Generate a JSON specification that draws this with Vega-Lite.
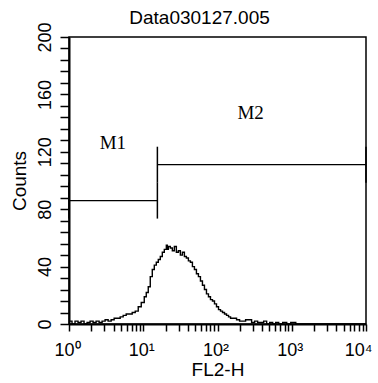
{
  "$schema": "https://vega.github.io/schema/vega-lite/v6.json",
  "autosize": "none",
  "padding": {"left": 69, "top": 37, "right": 12, "bottom": 59},
  "width": 297,
  "height": 287,
  "background": "white",
  "title": {
    "text": "Data030127.005",
    "font": "Liberation Sans",
    "fontSize": 19,
    "fontWeight": "normal",
    "color": "black",
    "offset": -6,
    "dx": -18
  },
  "config": {
    "view": {"stroke": "black", "strokeWidth": 1.5},
    "axis": {
      "grid": false,
      "domainColor": "black",
      "domainWidth": 2,
      "tickColor": "black",
      "tickWidth": 1.5,
      "labelColor": "black",
      "titleColor": "black",
      "labelFont": "Liberation Sans",
      "titleFont": "Liberation Sans",
      "titleFontWeight": "normal",
      "labelFlush": false,
      "labelBound": false
    }
  },
  "datasets": {
    "histogram": [
      {"fl2": 1, "count": 2}, {"fl2": 1.098, "count": 0}, {"fl2": 1.205, "count": 2},
      {"fl2": 1.323, "count": 1}, {"fl2": 1.453, "count": 2}, {"fl2": 1.595, "count": 0},
      {"fl2": 1.751, "count": 1}, {"fl2": 1.922, "count": 2}, {"fl2": 2.11, "count": 1},
      {"fl2": 2.317, "count": 2}, {"fl2": 2.543, "count": 1}, {"fl2": 2.792, "count": 2},
      {"fl2": 3.065, "count": 3}, {"fl2": 3.365, "count": 2}, {"fl2": 3.695, "count": 3},
      {"fl2": 4.056, "count": 4}, {"fl2": 4.453, "count": 4}, {"fl2": 4.889, "count": 5},
      {"fl2": 5.367, "count": 6}, {"fl2": 5.892, "count": 7}, {"fl2": 6.469, "count": 7},
      {"fl2": 7.102, "count": 8}, {"fl2": 7.797, "count": 9}, {"fl2": 8.56, "count": 12},
      {"fl2": 9.397, "count": 15}, {"fl2": 10.32, "count": 19}, {"fl2": 10.98, "count": 22},
      {"fl2": 11.68, "count": 26}, {"fl2": 12.43, "count": 33}, {"fl2": 13.23, "count": 38},
      {"fl2": 14.08, "count": 41}, {"fl2": 14.99, "count": 43}, {"fl2": 15.95, "count": 45},
      {"fl2": 16.97, "count": 47}, {"fl2": 18.06, "count": 50}, {"fl2": 19.22, "count": 52},
      {"fl2": 20.46, "count": 55}, {"fl2": 21.1, "count": 52}, {"fl2": 21.77, "count": 54},
      {"fl2": 23.17, "count": 53}, {"fl2": 24.66, "count": 51}, {"fl2": 26.24, "count": 54},
      {"fl2": 27.92, "count": 50}, {"fl2": 29.72, "count": 51}, {"fl2": 31.62, "count": 48},
      {"fl2": 33.65, "count": 50}, {"fl2": 35.82, "count": 47}, {"fl2": 38.11, "count": 46},
      {"fl2": 40.56, "count": 44}, {"fl2": 43.16, "count": 43}, {"fl2": 45.94, "count": 40},
      {"fl2": 48.89, "count": 38}, {"fl2": 52.02, "count": 35}, {"fl2": 55.36, "count": 33},
      {"fl2": 58.92, "count": 30}, {"fl2": 62.7, "count": 27}, {"fl2": 66.72, "count": 24},
      {"fl2": 71.01, "count": 21}, {"fl2": 75.57, "count": 19}, {"fl2": 80.42, "count": 17},
      {"fl2": 85.58, "count": 16}, {"fl2": 91.1, "count": 14}, {"fl2": 96.94, "count": 12},
      {"fl2": 103.2, "count": 10}, {"fl2": 109.8, "count": 9}, {"fl2": 116.8, "count": 8},
      {"fl2": 124.3, "count": 7}, {"fl2": 132.3, "count": 6}, {"fl2": 140.8, "count": 5},
      {"fl2": 149.9, "count": 4}, {"fl2": 164.6, "count": 4}, {"fl2": 180.6, "count": 3},
      {"fl2": 198.3, "count": 2}, {"fl2": 217.7, "count": 2}, {"fl2": 239, "count": 3},
      {"fl2": 262.4, "count": 3}, {"fl2": 288, "count": 1}, {"fl2": 316.2, "count": 2},
      {"fl2": 347.1, "count": 1}, {"fl2": 381.1, "count": 1}, {"fl2": 418.4, "count": 2},
      {"fl2": 459.4, "count": 0}, {"fl2": 504.3, "count": 1}, {"fl2": 553.6, "count": 0},
      {"fl2": 607.8, "count": 1}, {"fl2": 667.2, "count": 0}, {"fl2": 755.7, "count": 1},
      {"fl2": 855.8, "count": 0}, {"fl2": 969.4, "count": 1}, {"fl2": 1133, "count": 0},
      {"fl2": 1323, "count": 0}, {"fl2": 1806, "count": 0}, {"fl2": 2466, "count": 0},
      {"fl2": 3365, "count": 0}, {"fl2": 4594, "count": 0}, {"fl2": 6270, "count": 0},
      {"fl2": 10000, "count": 0}
    ],
    "markers": [
      {"name": "M1", "start": 1, "end": 15.5, "level": 86, "labelAt": 3.9, "labelLevel": 126},
      {"name": "M2", "start": 15.5, "end": 10000, "level": 111, "labelAt": 279, "labelLevel": 147}
    ]
  },
  "layer": [
    {
      "data": {"name": "histogram"},
      "mark": {"type": "line", "interpolate": "step-after", "color": "black", "strokeWidth": 1.4, "clip": true},
      "encoding": {
        "x": {
          "field": "fl2",
          "type": "quantitative",
          "scale": {"type": "log", "domain": [1, 10000], "nice": false},
          "axis": {
            "title": "FL2-H",
            "titleFontSize": 19,
            "titlePadding": 1,
            "values": [1, 2, 3, 4, 5, 6, 7, 8, 9, 10, 20, 30, 40, 50, 60, 70, 80, 90, 100, 200, 300, 400, 500, 600, 700, 800, 900, 1000, 2000, 3000, 4000, 5000, 6000, 7000, 8000, 9000, 10000],
            "tickCount": 100,
            "labelExpr": "datum.value == 1 ? '10⁰' : datum.value == 10 ? '10¹' : datum.value == 100 ? '10²' : datum.value == 1000 ? '10³' : datum.value == 10000 ? '10⁴' : ''",
            "labelFontSize": 18,
            "labelPadding": 10,
            "labelOffset": {"condition": {"test": "datum.value == 10000", "value": -8}, "value": -2},
            "labelOverlap": false,
            "tickSize": 7
          }
        },
        "y": {
          "field": "count",
          "type": "quantitative",
          "scale": {"domain": [0, 200], "nice": false},
          "axis": {
            "title": "Counts",
            "titleFontSize": 19,
            "titlePadding": 7,
            "values": [0, 8, 16, 24, 32, 40, 48, 56, 64, 72, 80, 88, 96, 104, 112, 120, 128, 136, 144, 152, 160, 168, 176, 184, 192, 200],
            "tickCount": 100,
            "labelExpr": "datum.value % 40 === 0 ? datum.label : ''",
            "labelAngle": 270,
            "labelAlign": "center",
            "labelBaseline": "bottom",
            "labelFontSize": 18,
            "labelPadding": 6,
            "labelOverlap": false,
            "tickSize": 9
          }
        }
      }
    },
    {
      "data": {"name": "markers"},
      "mark": {"type": "rule", "color": "black", "strokeWidth": 1.3},
      "encoding": {
        "x": {"field": "start", "type": "quantitative"},
        "x2": {"field": "end"},
        "y": {"field": "level", "type": "quantitative"}
      }
    },
    {
      "data": {"name": "markers"},
      "mark": {"type": "tick", "orient": "vertical", "color": "black", "size": 36, "thickness": 1.5, "opacity": 1},
      "encoding": {
        "x": {"field": "start", "type": "quantitative"},
        "y": {"field": "level", "type": "quantitative"}
      }
    },
    {
      "data": {"name": "markers"},
      "mark": {"type": "tick", "orient": "vertical", "color": "black", "size": 36, "thickness": 1.5, "opacity": 1},
      "encoding": {
        "x": {"field": "end", "type": "quantitative"},
        "y": {"field": "level", "type": "quantitative"}
      }
    },
    {
      "data": {"name": "markers"},
      "mark": {"type": "text", "font": "Liberation Serif", "fontSize": 19, "color": "black"},
      "encoding": {
        "x": {"field": "labelAt", "type": "quantitative"},
        "y": {"field": "labelLevel", "type": "quantitative"},
        "text": {"field": "name"}
      }
    }
  ]
}
